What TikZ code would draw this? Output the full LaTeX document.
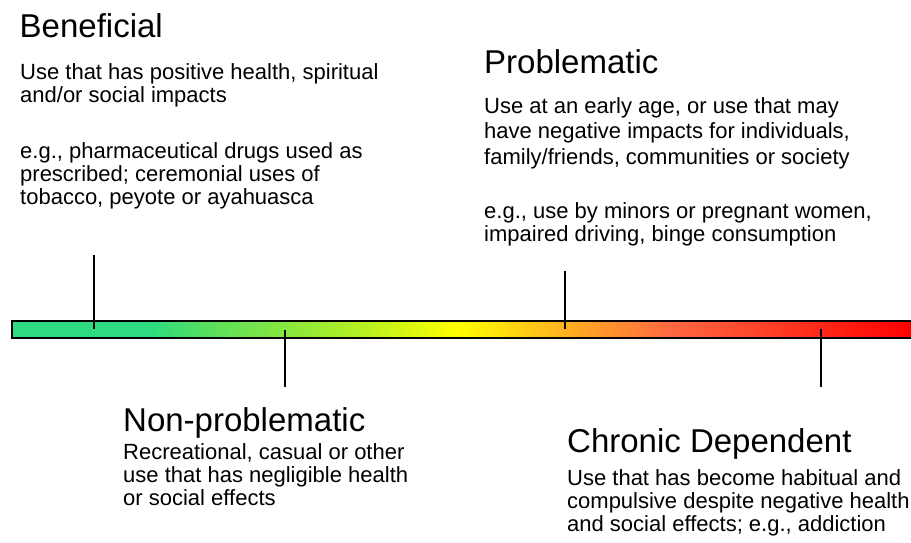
\documentclass[tikz,border=0pt]{standalone}
\usepackage{fontspec}
\setmainfont{Liberation Sans}
\definecolor{cgreen}{HTML}{2EDB80}
\definecolor{cgreen2}{HTML}{5DE05A}
\definecolor{cyg}{HTML}{B8F020}
\definecolor{cyellow}{HTML}{FFFF00}
\definecolor{corange}{HTML}{FFB020}
\definecolor{ccoral}{HTML}{FF6A40}
\definecolor{cred}{HTML}{FF0000}
\pgfdeclarehorizontalshading{spectrumbar}{100bp}{color(0bp)=(cgreen); color(32.7bp)=(cgreen); color(36.3bp)=(cgreen2); color(44.6bp)=(cyg); color(49.65bp)=(cyellow); color(55.7bp)=(corange); color(61.45bp)=(ccoral); color(75bp)=(cred); color(100bp)=(cred)}
\tikzset{
  title/.style={anchor=base west, inner sep=0pt, font=\fontsize{33}{36}\selectfont},
  body/.style={anchor=base west, inner sep=0pt, align=left, font=\fontsize{22}{23}\selectfont},
  bodywide/.style={anchor=base west, inner sep=0pt, align=left, font=\fontsize{22}{25.5}\selectfont},
  tick/.style={line width=1.6pt, black},
}
\begin{document}
\begin{tikzpicture}[x=1pt,y=-1pt]
\useasboundingbox (0,0) rectangle (911,542);
% bar
\shade[shading=spectrumbar, draw=black, line width=1.5pt] (12,321) rectangle (913,338);
% tick coordinates
\coordinate (bt) at (94,255);  \coordinate (bb) at (94,329);
\coordinate (pt) at (565,271); \coordinate (pb) at (565,329);
\coordinate (nt) at (285,330); \coordinate (nb) at (285,387);
\coordinate (ct) at (821,329); \coordinate (cb) at (821,387);
\draw[tick] (bt) -- (bb);
\draw[tick] (pt) -- (pb);
\draw[tick] (nt) -- (nb);
\draw[tick] (ct) -- (cb);
% Beneficial (multi-line nodes are placed at the baseline of their last line)
\node[title] (bentitle) at (19.5,37) {Beneficial};
\node[body] (benbody1) at (20,102) {Use that has positive health, spiritual\\and/or social impacts};
\node[body] (benbody2) at (20,204) {e.g., pharmaceutical drugs used as\\prescribed; ceremonial uses of\\tobacco, peyote or ayahuasca};
% Problematic
\node[title] (protitle) at (484,73) {Problematic};
\node[bodywide] (probody1) at (484,164) {Use at an early age, or use that may\\have negative impacts for individuals,\\family/friends, communities or society};
\node[body] (probody2) at (484,241) {e.g., use by minors or pregnant women,\\impaired driving, binge consumption};
% Non-problematic
\node[title] (nontitle) at (123,431) {Non-problematic};
\node[body] (nonbody) at (123,505) {Recreational, casual or other\\use that has negligible health\\or social effects};
% Chronic Dependent
\node[title] (chrtitle) at (567,452) {Chronic Dependent};
\node[body] (chrbody) at (567,531) {Use that has become habitual and\\compulsive despite negative health\\and social effects; e.g., addiction};
\end{tikzpicture}
\end{document}
